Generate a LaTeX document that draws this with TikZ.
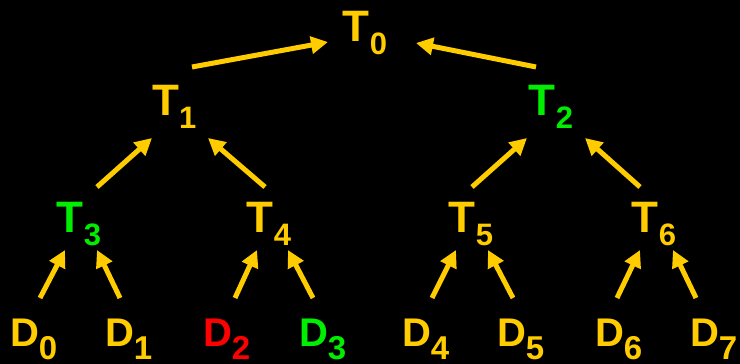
\documentclass[tikz,border=0pt]{standalone}
\usepackage{fontspec}
\setmainfont{Liberation Sans}
\usepackage{xcolor}
\usetikzlibrary{arrows.meta}
\definecolor{tyellow}{HTML}{FFCC00}
\definecolor{tgreen}{HTML}{00EE00}
\definecolor{tred}{HTML}{FF0000}
\newcommand{\subsz}{}
\newcommand{\vx}[2]{#1\raisebox{-12.5pt}{\subsz #2}}

\begin{document}
\begin{tikzpicture}[
x=1pt, y=1pt,
lbl/.style={inner sep=0, anchor=base, text=tyellow,
  font=\fontsize{44}{44}\selectfont\bfseries\def\subsz{\fontsize{31}{31}\selectfont}},
dlbl/.style={lbl,
  font=\fontsize{40}{40}\selectfont\bfseries\def\subsz{\fontsize{33}{33}\selectfont}},
arr/.style={-{Triangle[length=17pt, width=17pt]}, line width=5pt, tyellow}
]
\fill[black] (0,0) rectangle (740,364);
% tree nodes
\node[lbl] (t0) at (365,322) {\vx{T}{0}};
\node[lbl] (t1) at (174.4,248) {\vx{T}{1}};
\node[lbl, text=tgreen] (t2) at (551,248) {\vx{T}{2}};
\node[lbl, text=tgreen] (t3) at (79,131) {\vx{T}{3}};
\node[lbl] (t4) at (269,131) {\vx{T}{4}};
\node[lbl] (t5) at (471,131) {\vx{T}{5}};
\node[lbl] (t6) at (654,131) {\vx{T}{6}};
% data nodes
\node[dlbl] (d0) at (33.7,17) {\vx{D}{0}};
\node[dlbl] (d1) at (128.7,17) {\vx{D}{1}};
\node[dlbl, text=tred] (d2) at (226.7,17) {\vx{D}{2}};
\node[dlbl, text=tgreen] (d3) at (322.7,17) {\vx{D}{3}};
\node[dlbl] (d4) at (425.7,17) {\vx{D}{4}};
\node[dlbl] (d5) at (520.7,17) {\vx{D}{5}};
\node[dlbl] (d6) at (618.7,17) {\vx{D}{6}};
\node[dlbl] (d7) at (713.7,17) {\vx{D}{7}};
% arrows up the tree
\draw[arr] ([shift={(17.6,49)}]t1.base) -- ([shift={(-37,0)}]t0.base);
\draw[arr] ([shift={(-15,49)}]t2.base) -- ([shift={(51,-1)}]t0.base);
\draw[arr] ([shift={(18,46)}]t3.base) -- ([shift={(-22.4,-22)}]t1.base);
\draw[arr] ([shift={(-4,46)}]t4.base) -- ([shift={(33.6,-22)}]t1.base);
\draw[arr] ([shift={(1,46)}]t5.base) -- ([shift={(-24,-22)}]t2.base);
\draw[arr] ([shift={(-14,46)}]t6.base) -- ([shift={(34,-22)}]t2.base);
\draw[arr] ([shift={(6.3,49)}]d0.base) -- ([shift={(-14,-17)}]t3.base);
\draw[arr] ([shift={(-8.7,49)}]d1.base) -- ([shift={(18,-17)}]t3.base);
\draw[arr] ([shift={(8.3,49)}]d2.base) -- ([shift={(-12,-17)}]t4.base);
\draw[arr] ([shift={(-9.7,49)}]d3.base) -- ([shift={(19,-17)}]t4.base);
\draw[arr] ([shift={(6.3,49)}]d4.base) -- ([shift={(-15,-17)}]t5.base);
\draw[arr] ([shift={(-7.7,49)}]d5.base) -- ([shift={(17,-17)}]t5.base);
\draw[arr] ([shift={(-1.7,49)}]d6.base) -- ([shift={(-14,-17)}]t6.base);
\draw[arr] ([shift={(-17.7,49)}]d7.base) -- ([shift={(19,-17)}]t6.base);
\end{tikzpicture}
\end{document}
